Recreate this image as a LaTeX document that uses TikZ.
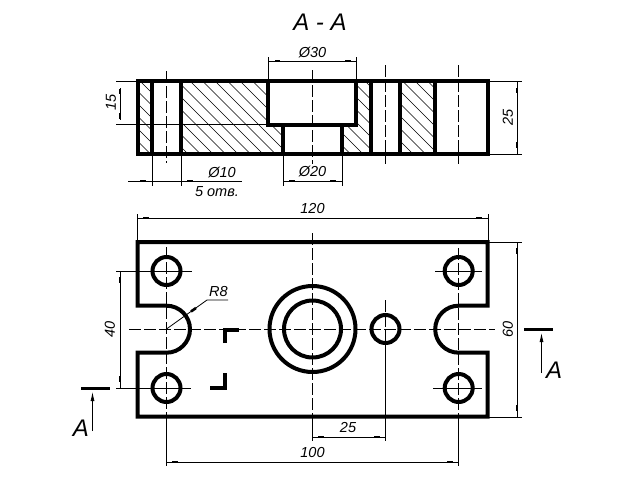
\documentclass[tikz,border=0pt]{standalone}
\usepackage{fontspec}
\setmainfont{Liberation Sans}
\usetikzlibrary{arrows.meta}

\begin{document}
\begin{tikzpicture} [x=1pt, y=-1pt, font=\fontsize{14.5}{16}\selectfont\itshape,
	contour/.style={line width=4pt, line cap=butt, line join=miter},
	thin line/.style={line width=0.8pt},
	axis/.style={line width=0.8pt, dash pattern=on 12pt off 3pt},
	hatch/.style={line width=0.6pt},
	tick/.style={line width=2.6pt},
	cutmark/.style={line width=3pt},
	bigletter/.style={font=\fontsize{24}{26}\selectfont\itshape}]
	\useasboundingbox (0,0) rectangle (640,480);

	% hatching of the section
	\begin{scope}
		\clip (137.5,81) rectangle (151.7,154)
			(181,81) rectangle (268.3,124.5)
			(181,124.5) rectangle (282.7,154)
			(356,81) rectangle (370.7,124.5)
			(341.7,124.5) rectangle (370.7,154)
			(400,81) rectangle (435,154);
		\foreach \hx in {65,77.5,...,440}
			\draw [hatch] (\hx,81) -- ++(73,73);
	\end{scope}

	% axes of the section
	\draw [axis] (166,71) -- (166,163);
	\draw [axis] (312.5,70) -- (312.5,164);
	\draw [axis] (385.5,65) -- (385.5,164);
	\draw [axis] (458.7,65) -- (458.7,164);

	% section
	\draw [contour] (137.5,81) rectangle (487.7,154);
	\draw [contour] (151.7,81) -- (151.7,154);
	\draw [contour] (181,81) -- (181,154);
	\draw [contour] (370.7,81) -- (370.7,154);
	\draw [contour] (400,81) -- (400,154);
	\draw [contour] (435,81) -- (435,154);
	\draw [contour] (268.3,81) -- (268.3,124.5) -- (356,124.5) -- (356,81);
	\draw [contour] (282.7,124.5) -- (282.7,154);
	\draw [contour] (341.7,124.5) -- (341.7,154);

	% dimensions of the section
	\draw [thin line] (116,81) -- (137,81);
	\draw [thin line] (116,124.5) -- (268,124.5);
	\draw [thin line] (120,88) -- (120,120);
	\draw [tick] (120,89) -- (120,94);
	\draw [tick] (120,113) -- (120,119);
	\node [rotate=90] (dim_15) at (111,102) {15};

	\draw [thin line] (268.3,57) -- (268.3,81);
	\draw [thin line] (356.5,57) -- (356.5,81);
	\draw [thin line] (268.3,61) -- (356.5,61);
	\draw [tick] (275,61) -- (280,61);
	\draw [tick] (345,61) -- (351,61);
	\node (dim_30) at (312.5,52) {Ø30};

	\draw [thin line] (152,154) -- (152,186);
	\draw [thin line] (181,154) -- (181,186);
	\draw [thin line] (128,181) -- (242,181);
	\draw [tick] (140,181) -- (146,181);
	\draw [tick] (187,181) -- (193,181);
	\node (dim_10) at (222,172) {Ø10};
	\node (holes) at (217,192) {5 отв.};

	\draw [thin line] (283,154) -- (283,186);
	\draw [thin line] (342,154) -- (342,186);
	\draw [thin line] (283,181) -- (342,181);
	\draw [tick] (289,181) -- (295,181);
	\draw [tick] (330,181) -- (336,181);
	\node (dim_20) at (312.5,171) {Ø20};

	\draw [thin line] (488,81) -- (522,81);
	\draw [thin line] (488,154) -- (522,154);
	\draw [thin line] (517,81) -- (517,154);
	\draw [tick] (517,88) -- (517,93);
	\draw [tick] (517,142) -- (517,148);
	\node [rotate=90] (dim_25) at (508,117) {25};

	% title
	\node [bigletter] (title) at (320,22) {A - A};

	% axes of the plan
	\draw [axis] (129,329) -- (495,329);
	\draw [axis] (312.5,233) -- (312.5,417);
	\draw [axis] (166.5,247) -- (166.5,417);
	\draw [axis] (458.7,248) -- (458.7,417);
	\draw [axis] (385.5,300) -- (385.5,344);
	\draw [thin line] (116,271) -- (192,271);
	\draw [thin line] (116,388) -- (191,388);
	\draw [thin line] (435,271) -- (482,271);
	\draw [thin line] (433,388) -- (482,388);

	% plan
	\draw [contour] (166.5,305.7) -- (137.5,305.7) -- (137.5,242) -- (487.7,242) -- (487.7,305.7) -- (458.7,305.7)
		arc [start angle=-90, end angle=-270, radius=23.5]
		-- (487.7,352.7) -- (487.7,416.7) -- (137.5,416.7) -- (137.5,352.7) -- (166.5,352.7)
		arc [start angle=90, end angle=-90, radius=23.5];
	\draw [contour] (166.5,271) circle [radius=14];
	\draw [contour] (166.5,388) circle [radius=14];
	\draw [contour] (458.7,271) circle [radius=14];
	\draw [contour] (458.7,388) circle [radius=14];
	\draw [contour] (312.5,329) circle [radius=43];
	\draw [contour] (312.5,329) circle [radius=28.5];
	\draw [contour] (385.5,329) circle [radius=14];

	% corners of the cut
	\draw [contour] (225,343) -- (225,330) -- (239,330);
	\draw [contour] (225,373) -- (225,388) -- (210,388);

	% dimensions of the plan
	\draw [thin line] (137.5,214) -- (137.5,242);
	\draw [thin line] (488,214) -- (488,242);
	\draw [thin line] (137.5,218) -- (488,218);
	\draw [tick] (143,218) -- (149,218);
	\draw [tick] (476,218) -- (482,218);
	\node (dim_120) at (312.5,209) {120};

	\draw [thin line] (120,271) -- (120,388);
	\draw [tick] (120,277) -- (120,283);
	\draw [tick] (120,376) -- (120,382);
	\node [rotate=90] (dim_40) at (110,329) {40};

	\draw [thin line] (488,242) -- (522,242);
	\draw [thin line] (488,417) -- (522,417);
	\draw [thin line] (517,242) -- (517,417);
	\draw [tick] (517,248) -- (517,254);
	\draw [tick] (517,405) -- (517,411);
	\node [rotate=90] (dim_60) at (508,329) {60};

	\draw [thin line] (312.5,417) -- (312.5,441);
	\draw [thin line] (385.5,344) -- (385.5,441);
	\draw [thin line] (312.5,437) -- (385.5,437);
	\draw [tick] (318,437) -- (324,437);
	\draw [tick] (374,437) -- (380,437);
	\node (dim_25b) at (348,428) {25};

	\draw [thin line] (166.5,417) -- (166.5,466);
	\draw [thin line] (458.7,417) -- (458.7,466);
	\draw [thin line] (166.5,462) -- (458.7,462);
	\draw [tick] (172,462) -- (178,462);
	\draw [tick] (447,462) -- (453,462);
	\node (dim_100) at (312.5,453) {100};

	\draw [thin line] (166.5,329) -- (207,300) -- (228,300);
	\draw [tick] (191,311.5) -- (196,308);
	\node (dim_r8) at (218.5,292) {R8};

	% cut marks
	\draw [cutmark] (81,388) -- (110,388);
	\draw [thin line, -{Latex[length=9pt,width=4pt]}] (92.5,431) -- (92.5,392);
	\node [bigletter] (cut_left) at (81,428) {A};
	\draw [cutmark] (524,329) -- (553,329);
	\draw [thin line, -{Latex[length=9pt,width=4pt]}] (541.5,373) -- (541.5,333);
	\node [bigletter] (cut_right) at (554,370) {A};
\end{tikzpicture}
\end{document}
